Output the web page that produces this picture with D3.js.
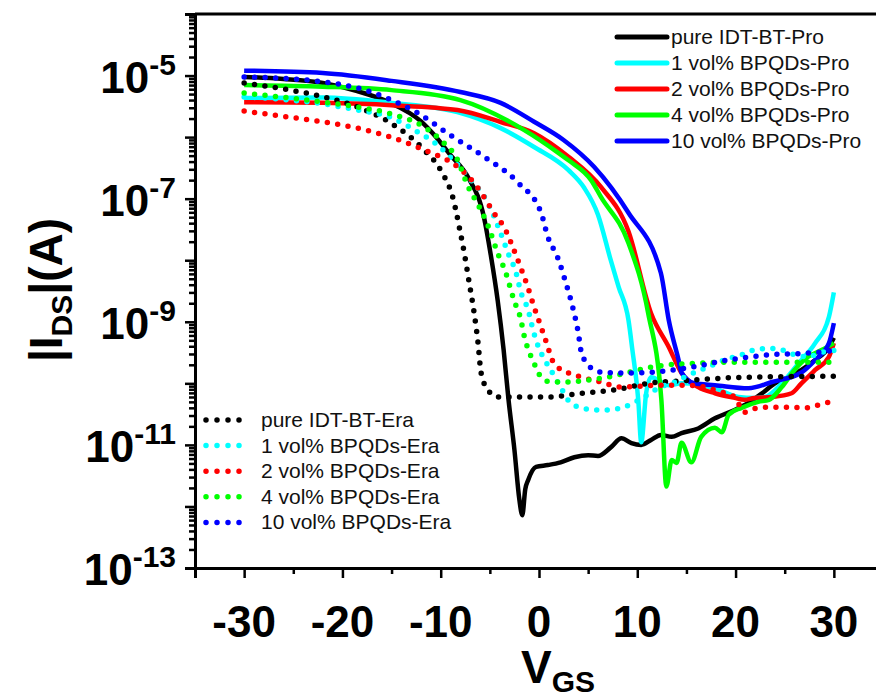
<!DOCTYPE html>
<html>
<head>
<meta charset="utf-8">
<script src="https://cdn.jsdelivr.net/npm/d3@7/dist/d3.min.js"></script>
<style>
  body { margin: 0; background: #fff; }
  svg { display: block; font-family: "Liberation Sans", Arial, sans-serif; }
</style>
</head>
<body>
<svg id="chart" width="876" height="696"></svg>
<script>
// transfer curves, [VGS (V), |IDS| (A)]
var pureIdtPro = [[-30, 9.5e-6], [-26, 8.8e-6], [-22, 7.6e-6], [-18.5, 5.6e-6], [-15.3, 3.7e-6], [-12, 1.8e-6], [-10.7, 1.1e-6], [-9, 5.1e-7], [-7.2, 2.2e-7], [-5.6, 5e-8], [-4.9, 1.2e-8], [-4.2, 2.2e-9], [-3.6, 3.5e-10], [-3.1, 5.4e-11], [-2.5, 8.3e-12], [-2.0, 1.3e-12], [-1.7, 7.2e-13], [-1.4, 1.9e-12], [-1.1, 2.7e-12], [-0.3, 4.4e-12], [0.9, 4.7e-12], [2.2, 5.2e-12], [3.6, 6.3e-12], [5.0, 6.8e-12], [6.0, 6.6e-12], [7.3, 9.1e-12], [8.4, 1.28e-11], [9.4, 1.07e-11], [10.4, 1.0e-11], [11.4, 1.2e-11], [12.4, 1.45e-11], [13.5, 1.35e-11], [14.5, 1.55e-11], [16.2, 1.85e-11], [17.9, 2.7e-11], [19.9, 3.7e-11], [21.3, 4.8e-11], [22.7, 6.9e-11], [24, 1.0e-10], [25.4, 1.26e-10], [26.7, 1.65e-10], [28.1, 2.4e-10], [29.5, 3.9e-10], [30, 5.5e-10]];
var bpqd1Pro = [[-30, 4.3e-6], [-22, 4.4e-6], [-15, 3.6e-6], [-8.3, 2.55e-6], [-3.9, 1.4e-6], [-0.5, 6.9e-7], [3, 2.9e-7], [4.6, 1.5e-7], [6, 5.5e-8], [7.3, 1.0e-8], [8.1, 3.7e-9], [9.1, 1.07e-9], [9.5, 3.5e-10], [10.1, 5.4e-11], [10.4, 1.1e-11], [10.9, 6.9e-11], [11.4, 1.26e-10], [13.2, 9.3e-11], [14.5, 1.0e-10], [17.9, 8.3e-11], [20.3, 6e-11], [21.9, 5.8e-11], [23, 6e-11], [24.7, 1.0e-10], [26.4, 2.1e-10], [28.1, 4.5e-10], [29.5, 1.2e-9], [30, 3e-9]];
var bpqd2Pro = [[-30, 3.7e-6], [-22, 3.6e-6], [-15, 3.3e-6], [-8.3, 2.75e-6], [-3.9, 1.76e-6], [-0.5, 1.16e-6], [3, 4.8e-7], [6.3, 1.55e-7], [9.1, 2.95e-8], [11.4, 1.38e-9], [13.2, 3.9e-10], [14.5, 1.47e-10], [16.2, 8.7e-11], [17.9, 6.9e-11], [19.9, 5.8e-11], [20.9, 5.4e-11], [21.9, 5.8e-11], [23.7, 6e-11], [25.7, 6.9e-11], [26.7, 1.0e-10], [28.1, 1.65e-10], [29.5, 2.7e-10], [30, 4.5e-10]];
var bpqd4Pro = [[-30, 7e-6], [-22, 6.6e-6], [-15, 5.8e-6], [-8, 4e-6], [-1.5, 1.3e-6], [2, 5.5e-7], [3, 4.2e-7], [5.3, 2e-7], [6.3, 1.07e-7], [9.1, 1.9e-8], [11.1, 1.4e-9], [12.45, 5.4e-11], [12.96, 2.1e-12], [13.5, 5.7e-12], [14, 5.1e-12], [14.5, 1.08e-11], [15.5, 5.2e-12], [16.5, 1.35e-11], [17.9, 1.9e-11], [18.6, 1.6e-11], [19.3, 3.1e-11], [20.6, 4e-11], [22.3, 5e-11], [23.4, 5.4e-11], [24.7, 8.7e-11], [26, 1.65e-10], [27.4, 2.7e-10], [28.8, 3.5e-10], [30, 4.5e-10]];
var bpqd10Pro = [[-30, 1.2e-5], [-22, 1.1e-5], [-15, 8.2e-6], [-8, 5.4e-6], [-3.9, 3.6e-6], [-0.5, 1.78e-6], [2.5, 9e-7], [5.6, 3.3e-7], [9.1, 5.9e-8], [12.4, 6.2e-9], [13.2, 1.07e-9], [14.2, 2.4e-10], [14.5, 1.5e-10], [15.8, 1.0e-10], [17.9, 9.3e-11], [21.3, 8.3e-11], [23.7, 1.05e-10], [26.7, 1.5e-10], [28.1, 2.4e-10], [29.5, 4.5e-10], [30, 9.5e-10]];

var pureIdtEra = [[-30, 7.6e-6], [-25.3, 5.8e-6], [-21.9, 4.5e-6], [-18.5, 3.1e-6], [-15.1, 1.7e-6], [-11.7, 6.2e-7], [-10, 2.9e-7], [-8.7, 9.5e-8], [-8, 2.8e-8], [-7.6, 1.3e-8], [-7.1, 4.3e-9], [-6.6, 1.4e-9], [-6.2, 4.5e-10], [-5.9, 1.5e-10], [-5.2, 7.8e-11], [-4.2, 6e-11], [-1.8, 6e-11], [0.9, 6e-11], [4.3, 6.9e-11], [7.7, 7.8e-11], [11.1, 1.0e-10], [14.5, 1.1e-10], [21.3, 1.26e-10], [30, 1.3e-10]];
var bpqd1Era = [[-30, 4.5e-6], [-25.3, 4e-6], [-21.9, 3.45e-6], [-18.5, 2.75e-6], [-15.1, 2.1e-6], [-12.3, 1.2e-6], [-10.7, 8.3e-7], [-9, 4.7e-7], [-7.2, 2.25e-7], [-5.2, 8.5e-8], [-3.9, 2.75e-8], [-3.06, 1.2e-8], [-2.35, 6.4e-9], [-1.84, 3e-9], [-1.1, 1.55e-9], [-0.6, 7.3e-10], [0, 3.7e-10], [0.5, 2.55e-10], [1.5, 1.36e-10], [2.2, 8.7e-11], [3.1, 5e-11], [4.3, 4e-11], [5.8, 3.7e-11], [7.1, 3.7e-11], [8.4, 4e-11], [9.6, 4.8e-11], [10.7, 6e-11], [12.1, 8.3e-11], [13.8, 1.05e-10], [15.2, 1.36e-10], [17.2, 1.84e-10], [18.9, 2.4e-10], [20.6, 2.9e-10], [21.9, 3.5e-10], [23.4, 3.7e-10], [24.7, 3.5e-10], [26, 2.9e-10], [27.4, 2.7e-10], [28.8, 3.2e-10], [30, 3.4e-10]];
var bpqd2Era = [[-30, 2.65e-6], [-25.3, 2.1e-6], [-21.9, 1.76e-6], [-18.5, 1.4e-6], [-15.1, 1.0e-6], [-11.7, 6.2e-7], [-8.3, 3.3e-7], [-6.6, 1.8e-7], [-5.6, 1.07e-7], [-4.6, 5.9e-8], [-3.4, 3.1e-8], [-2.65, 1.6e-8], [-1.84, 7.4e-9], [-1.1, 3.5e-9], [-0.5, 1.74e-9], [0.2, 8.3e-10], [0.9, 3.9e-10], [1.2, 2.7e-10], [1.9, 1.84e-10], [3, 1.47e-10], [4.3, 1.26e-10], [6.3, 1.05e-10], [8.4, 8.7e-11], [12.1, 9.3e-11], [15.2, 9.3e-11], [18.6, 7.2e-11], [19.9, 6e-11], [20.9, 3.4e-11], [22.3, 4e-11], [23.7, 4.1e-11], [25.4, 4.1e-11], [27.4, 4e-11], [28.5, 4.5e-11], [29.6, 5e-11]];
var bpqd4Era = [[-30, 5.2e-6], [-25.3, 4.3e-6], [-21.9, 3.7e-6], [-18.5, 3.1e-6], [-15.1, 2.4e-6], [-11.7, 1.46e-6], [-10, 9e-7], [-8.3, 4.3e-7], [-7.2, 1.55e-7], [-6.2, 8e-8], [-5.2, 3.7e-8], [-4.2, 1.3e-8], [-3.4, 6.4e-9], [-2.55, 2.25e-9], [-1.84, 1.07e-9], [-1.53, 6.1e-10], [-0.8, 2.7e-10], [-0.3, 1.8e-10], [0.2, 1.26e-10], [1.2, 1.05e-10], [3, 1.05e-10], [5, 1.13e-10], [7, 1.26e-10], [9.1, 1.5e-10], [11.1, 1.8e-10], [13.2, 2e-10], [15.8, 2.1e-10], [18.6, 2.2e-10], [22.7, 2.2e-10], [26.7, 2.2e-10], [30, 2.2e-10]];
var bpqd10Era = [[-30, 9.5e-6], [-25, 8.8e-6], [-22, 7.9e-6], [-18.5, 6.3e-6], [-15, 4.0e-6], [-12.3, 2.45e-6], [-9, 1.07e-6], [-5.6, 4.8e-7], [-2.1, 1.8e-7], [0.2, 6e-8], [0.9, 2.4e-8], [1.9, 1.1e-8], [2.75, 4.2e-9], [3.5, 1.55e-9], [4, 6.6e-10], [4.3, 3.2e-10], [4.8, 2.2e-10], [5.6, 1.65e-10], [6.6, 1.5e-10], [8.7, 1.47e-10], [11.1, 1.5e-10], [15.2, 1.8e-10], [19.3, 2.4e-10], [23.4, 2.9e-10], [27.4, 3.1e-10], [30, 3.4e-10]];

var proLabels = ["pure IDT-BT-Pro", "1 vol% BPQDs-Pro", "2 vol% BPQDs-Pro", "4 vol% BPQDs-Pro", "10 vol% BPQDs-Pro"];
var eraLabels = ["pure IDT-BT-Era", "1 vol% BPQDs-Era", "2 vol% BPQDs-Era", "4 vol% BPQDs-Era", "10 vol% BPQDs-Era"];
var colors = ["#000000", "#00ffff", "#ff0000", "#00ff00", "#0000ff"];

var xTicks = [-30, -20, -10, 0, 10, 20, 30];
var yLabelExps = [-5, -7, -9, -11, -13];

var proSeries = [pureIdtPro, bpqd1Pro, bpqd2Pro, bpqd4Pro, bpqd10Pro];
var eraSeries = [pureIdtEra, bpqd1Era, bpqd2Era, bpqd4Era, bpqd10Era];

var svg = d3.select("#chart");
var plotLeft = 195, plotTop = 14, plotRight = 883, plotBottom = 568;

var x = d3.scaleLinear().domain([-35, 35]).range([plotLeft, plotRight]);
var y = d3.scaleLog().domain([1e-13, 1e-4]).range([plotBottom, plotTop]);

var line = d3.line()
    .x(function (d) { return x(d[0]); })
    .y(function (d) { return y(d[1]); })
    .curve(d3.curveMonotoneX);

// solid (Pro) curves
proSeries.forEach(function (s, i) {
    svg.append("path")
        .attr("d", line(s))
        .attr("fill", "none")
        .attr("stroke", colors[i])
        .attr("stroke-width", 4.5)
        .attr("stroke-linejoin", "round");
});

// dotted (Era) curves
eraSeries.forEach(function (s, i) {
    svg.append("path")
        .attr("d", line(s))
        .attr("fill", "none")
        .attr("stroke", colors[i])
        .attr("stroke-width", 5.5)
        .attr("stroke-linecap", "round")
        .attr("stroke-dasharray", "0,10.5");
});

// frame
svg.append("line").attr("x1", plotLeft).attr("x2", plotRight).attr("y1", plotTop).attr("y2", plotTop)
    .attr("stroke", "#000").attr("stroke-width", 3);
svg.append("line").attr("x1", plotRight).attr("x2", plotRight).attr("y1", plotTop).attr("y2", plotBottom)
    .attr("stroke", "#000").attr("stroke-width", 3);

// y axis ticks
var majorY = d3.range(-13, -3).map(function (e) { return Math.pow(10, e); });
var minorY = [];
d3.range(-13, -4).forEach(function (e) {
    for (var m = 2; m <= 9; m++) minorY.push(m * Math.pow(10, e));
});

svg.append("g").attr("transform", "translate(" + plotLeft + ",0)")
    .call(d3.axisLeft(y).tickValues(minorY).tickSize(6).tickFormat(""));
svg.append("g").attr("transform", "translate(" + plotLeft + ",0)")
    .call(d3.axisLeft(y).tickValues(majorY).tickSize(10).tickFormat(""));

// x axis ticks
svg.append("g").attr("transform", "translate(0," + plotBottom + ")")
    .call(d3.axisBottom(x).tickValues([-25, -15, -5, 5, 15, 25]).tickSize(6).tickFormat(""));
svg.append("g").attr("transform", "translate(0," + plotBottom + ")")
    .call(d3.axisBottom(x).tickValues(xTicks).tickSize(10).tickFormat(""));

svg.selectAll(".domain").attr("stroke", "#000").attr("stroke-width", 3);
svg.selectAll(".tick line").attr("stroke", "#000").attr("stroke-width", 2.5);

// y tick labels
yLabelExps.forEach(function (e) {
    var t = svg.append("text")
        .attr("x", 176)
        .attr("y", y(Math.pow(10, e)) + 17)
        .attr("text-anchor", "end")
        .attr("font-weight", "bold")
        .attr("font-size", 44)
        .attr("fill", "#000");
    t.append("tspan").text("10");
    t.append("tspan").attr("font-size", 30).attr("dy", -18).text(String(e));
});

// x tick labels
xTicks.forEach(function (v) {
    svg.append("text")
        .attr("x", x(v))
        .attr("y", 637)
        .attr("text-anchor", "middle")
        .attr("font-weight", "bold")
        .attr("font-size", 44)
        .attr("fill", "#000")
        .text(String(v));
});

// axis titles
var xt = svg.append("text")
    .attr("x", 521)
    .attr("y", 683)
    .attr("font-weight", "bold")
    .attr("font-size", 46)
    .attr("fill", "#000");
xt.append("tspan").text("V");
xt.append("tspan").attr("font-size", 30).attr("dy", 9).text("GS");

var yt = svg.append("text")
    .attr("transform", "translate(62,290) rotate(-90)")
    .attr("text-anchor", "middle")
    .attr("font-weight", "bold")
    .attr("font-size", 46)
    .attr("fill", "#000");
yt.append("tspan").text("|I");
yt.append("tspan").attr("font-size", 30).attr("dy", 10).text("DS");
yt.append("tspan").attr("dy", -10).text("|(A)");

// legend, solid lines
var legPro = svg.append("g");
proLabels.forEach(function (lab, i) {
    var ly = 37 + i * 26;
    legPro.append("line")
        .attr("x1", 617).attr("x2", 667).attr("y1", ly).attr("y2", ly)
        .attr("stroke", colors[i]).attr("stroke-width", 5).attr("stroke-linecap", "round");
    legPro.append("text")
        .attr("x", 671).attr("y", ly + 7)
        .attr("font-size", 21).attr("fill", "#111")
        .text(lab);
});

// legend, dotted lines
var legEra = svg.append("g");
eraLabels.forEach(function (lab, i) {
    var ly = 420 + i * 25.6;
    legEra.append("line")
        .attr("x1", 206).attr("x2", 250).attr("y1", ly).attr("y2", ly)
        .attr("stroke", colors[i]).attr("stroke-width", 5.5)
        .attr("stroke-linecap", "round").attr("stroke-dasharray", "0,11");
    legEra.append("text")
        .attr("x", 261).attr("y", ly + 7)
        .attr("font-size", 21).attr("fill", "#111")
        .text(lab);
});
</script>
</body>
</html>
